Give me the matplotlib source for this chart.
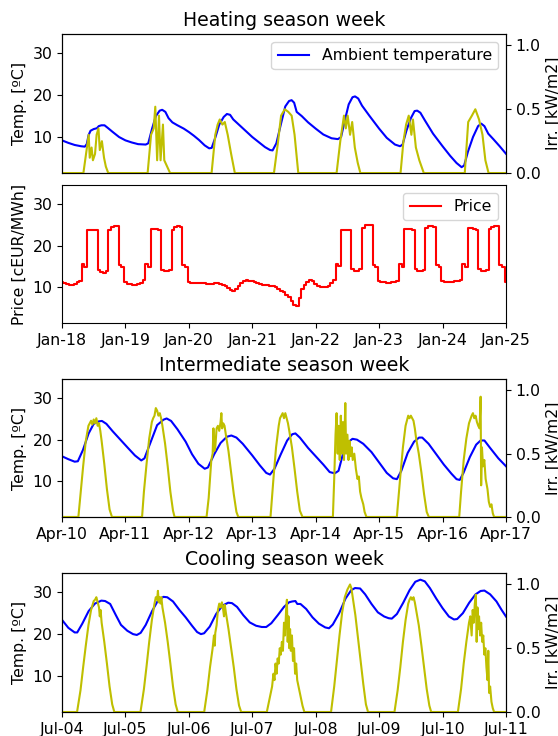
import numpy as np
import matplotlib
matplotlib.use("Agg")
import matplotlib.pyplot as plt
import matplotlib.dates as mdates

plt.rcParams['font.family'] = ['DejaVu Sans']
plt.rcParams['font.size'] = 11.3

# ---------------- DATA ----------------
heat_start = '2018-01-18T00:00'
inter_start = '2018-04-10T00:00'
cool_start = '2018-07-04T00:00'

# Heating week ambient temperature (time in days, value in ºC)
heat_temp_d = [0.00, 0.10, 0.20, 0.30, 0.36, 0.39, 0.42, 0.45, 0.50, 0.55, 0.58, 0.62, 0.67, 0.72, 0.80, 0.90,
               1.00, 1.10, 1.20, 1.32, 1.36, 1.42, 1.48, 1.54, 1.58, 1.63, 1.68, 1.74, 1.82, 1.92,
               2.00, 2.08, 2.16, 2.25, 2.32, 2.36, 2.42, 2.48, 2.55, 2.60, 2.65, 2.70, 2.80, 2.90,
               3.00, 3.10, 3.20, 3.28, 3.32, 3.38, 3.45, 3.52, 3.58, 3.62, 3.66, 3.70, 3.78, 3.88,
               4.00, 4.12, 4.25, 4.35, 4.40, 4.46, 4.52, 4.58, 4.62, 4.67, 4.73, 4.85,
               5.00, 5.12, 5.25, 5.33, 5.37, 5.43, 5.50, 5.56, 5.60, 5.65, 5.72, 5.85,
               6.00, 6.12, 6.22, 6.30, 6.34, 6.40, 6.48, 6.56, 6.61, 6.66, 6.72, 6.80, 6.90, 7.00]
heat_temp_v = [9.2, 8.6, 8.1, 7.8, 7.7, 8.3, 10.5, 11.5, 11.9, 12.1, 12.6, 12.8, 12.8, 12.2, 11.2, 10.0,
               9.2, 8.7, 8.3, 8.2, 8.5, 12.0, 15.0, 16.3, 16.5, 16.0, 14.5, 13.5, 12.8, 12.0,
               11.2, 10.3, 9.3, 8.0, 7.3, 7.4, 10.0, 13.0, 14.8, 15.5, 15.3, 14.2, 12.8, 11.4,
               10.0, 8.8, 7.6, 6.9, 6.8, 8.5, 13.0, 17.3, 18.6, 18.8, 18.2, 16.0, 15.0, 13.5,
               12.0, 10.6, 9.7, 9.5, 10.0, 14.0, 17.8, 19.5, 19.7, 19.2, 17.5, 15.0,
               12.0, 9.8, 8.2, 7.8, 8.2, 11.5, 14.5, 16.2, 16.3, 15.8, 14.0, 10.8,
               7.8, 5.5, 3.8, 2.8, 3.2, 6.5, 10.0, 12.6, 13.2, 12.6, 10.8, 9.5, 7.8, 6.0]

# Heating week irradiance: per day, (hour-of-day list, kW/m2 list)
heat_irr_h = [
    [8.1, 10.1, 10.5, 11.2, 11.7, 12.5, 13.1, 13.8, 14.3, 15.1, 15.9, 16.6, 17.5],
    [8.4, 9.7, 10.7, 11.3, 12.0, 12.7, 13.3, 14.2, 14.7, 15.8, 16.9],
    [8.6, 10.0, 10.9, 11.7, 12.7, 13.6, 14.7, 16.0, 17.4],
    [8.2, 9.6, 10.9, 12.3, 13.6, 14.9, 16.0, 17.4],
    [7.9, 9.3, 10.7, 11.4, 12.1, 13.0, 13.8, 14.8, 15.9, 16.9],
    [8.1, 9.2, 10.2, 11.2, 12.2, 12.8, 13.9, 15.2, 16.9],
    [8.4, 9.7, 11.1, 12.4, 13.8, 15.1, 16.2, 17.4],
]
heat_irr_v = [
    [0.0, 0.30, 0.12, 0.20, 0.10, 0.15, 0.30, 0.35, 0.18, 0.25, 0.12, 0.05, 0.0],
    [0.0, 0.30, 0.35, 0.52, 0.10, 0.45, 0.10, 0.38, 0.10, 0.05, 0.0],
    [0.0, 0.30, 0.38, 0.42, 0.38, 0.40, 0.30, 0.15, 0.0],
    [0.0, 0.22, 0.45, 0.50, 0.48, 0.45, 0.30, 0.0],
    [0.0, 0.25, 0.45, 0.35, 0.45, 0.30, 0.40, 0.20, 0.08, 0.0],
    [0.0, 0.25, 0.38, 0.45, 0.30, 0.42, 0.20, 0.10, 0.0],
    [0.0, 0.40, 0.45, 0.50, 0.42, 0.30, 0.10, 0.0],
]

# Heating week price, hourly values (cEUR/MWh), 7 days x 24 h + final hour
price_days = [
    [11.3, 11.0, 10.8, 10.6, 10.6, 10.9, 11.3, 11.6, 15.5, 14.9, 23.9, 23.9, 23.9, 23.7,
     14.2, 13.7, 13.5, 14.0, 23.9, 24.5, 24.7, 24.7, 15.4, 15.0],
    [11.2, 10.9, 10.7, 10.6, 10.6, 10.7, 11.0, 11.8, 15.6, 15.0, 24.0, 24.0, 24.0, 23.8,
     14.2, 14.0, 13.8, 14.2, 23.8, 24.5, 24.7, 24.6, 15.4, 15.0],
    [11.2, 11.1, 11.1, 11.0, 11.0, 11.0, 11.0, 10.9, 10.9, 10.9, 11.0, 11.0, 10.8, 10.6,
     10.3, 9.9, 9.3, 9.2, 9.6, 10.2, 11.0, 11.6, 11.7, 11.5],
    [11.4, 11.2, 11.0, 10.8, 10.6, 10.5, 10.5, 10.4, 10.2, 10.0, 9.6, 9.2, 8.8, 8.2,
     7.6, 6.8, 5.8, 5.5, 7.4, 9.5, 10.6, 11.3, 11.8, 11.4],
    [10.8, 10.3, 10.0, 10.0, 10.0, 10.2, 11.0, 11.8, 15.5, 15.1, 23.8, 23.8, 23.8, 23.8,
     14.3, 14.0, 14.0, 14.3, 24.2, 25.0, 25.1, 25.0, 15.4, 15.0],
    [11.5, 11.3, 11.2, 11.1, 11.1, 11.2, 11.3, 11.6, 15.6, 15.0, 24.0, 24.0, 24.0, 23.8,
     14.3, 14.0, 13.8, 14.2, 24.3, 24.7, 24.7, 24.6, 15.4, 15.0],
    [11.6, 11.3, 11.2, 11.2, 11.3, 11.5, 11.6, 11.7, 15.5, 15.0, 24.2, 24.2, 24.0, 23.9,
     14.3, 14.0, 13.8, 14.2, 24.1, 24.5, 24.7, 24.7, 15.3, 15.0],
]
price_last = 11.2

# Intermediate week temperature (days, ºC)
inter_temp_d = [0.00, 0.10, 0.20, 0.25, 0.33, 0.42, 0.50, 0.58, 0.63, 0.70, 0.80, 0.92,
                1.04, 1.15, 1.25, 1.30, 1.40, 1.50, 1.60, 1.65, 1.72, 1.82, 1.95,
                2.05, 2.15, 2.25, 2.30, 2.40, 2.50, 2.60, 2.67, 2.75, 2.85,
                3.00, 3.12, 3.22, 3.28, 3.35, 3.45, 3.55, 3.63, 3.68, 3.75, 3.88,
                4.00, 4.12, 4.22, 4.30, 4.36, 4.42, 4.47, 4.52, 4.58, 4.65, 4.75, 4.88,
                5.00, 5.12, 5.22, 5.28, 5.35, 5.45, 5.55, 5.63, 5.68, 5.78, 5.90,
                6.02, 6.14, 6.22, 6.27, 6.33, 6.43, 6.53, 6.60, 6.66, 6.75, 6.88, 7.00]
inter_temp_v = [16.0, 15.3, 14.7, 14.8, 17.5, 21.5, 23.8, 24.4, 24.5, 23.8, 22.0, 20.0,
                18.0, 16.2, 15.0, 15.5, 19.5, 23.5, 24.8, 25.1, 24.5, 22.5, 19.5,
                16.5, 14.2, 13.0, 13.3, 16.5, 19.2, 20.7, 21.0, 20.5, 19.0,
                16.2, 13.8, 12.0, 11.6, 13.0, 16.5, 19.8, 21.3, 21.5, 20.5, 18.0,
                16.0, 14.0, 12.2, 11.9, 12.5, 16.0, 19.0, 19.5, 20.2, 20.0, 19.0, 17.0,
                14.5, 12.0, 10.7, 10.5, 12.5, 16.8, 19.5, 20.5, 20.5, 19.0, 16.5,
                14.0, 11.8, 10.5, 10.3, 12.0, 15.8, 18.8, 19.8, 19.8, 18.0, 15.5, 13.6]

inter_irr_h = [
    [6.2, 7, 8, 9, 10, 10.5, 11, 11.5, 12, 12.5, 13, 13.5, 14, 14.5, 15, 16, 17, 18, 18.9],
    [6.3, 7, 8, 9, 10, 10.5, 11, 11.5, 12, 12.5, 13, 13.5, 14, 15, 16, 17, 18, 18.6],
    [6.7, 7.5, 8, 8.5, 9, 9.3, 9.6, 10, 10.5, 11, 11.5, 12, 12.3, 12.6, 13, 13.5, 14, 15, 16, 17, 18, 18.7],
    [6.9, 8, 9, 10, 10.5, 11, 11.5, 12, 12.5, 13, 13.5, 14, 15, 16, 17, 18, 19],
    [6.5, 7, 7.5, 7.9, 8.3, 8.7, 9.1, 9.5, 9.9, 10.3, 10.7, 11.2, 11.5, 12, 12.4, 12.8, 13.2,
     13.6, 14, 14.6, 15.2, 15.8, 16.3, 16.8, 17.3, 18, 18.5, 19.2],
    [6.7, 7.5, 8, 9, 10, 10.5, 11, 11.5, 12, 12.5, 13, 13.5, 14, 15, 16, 17, 18, 18.8],
    [6.3, 7, 8, 9, 10, 11, 11.5, 12, 12.5, 13, 13.5, 14, 14.4, 14.6, 14.9, 15.3, 15.8, 16.3,
     17, 17.5, 18, 18.5, 19, 19.5],
]
inter_irr_v = [
    [0.0, 0.18, 0.40, 0.60, 0.72, 0.74, 0.76, 0.73, 0.77, 0.74, 0.78, 0.72, 0.74, 0.68, 0.60, 0.42, 0.22, 0.06, 0.0],
    [0.0, 0.20, 0.42, 0.62, 0.75, 0.78, 0.80, 0.86, 0.84, 0.80, 0.82, 0.78, 0.72, 0.58, 0.40, 0.20, 0.05, 0.0],
    [0.0, 0.15, 0.30, 0.45, 0.50, 0.70, 0.52, 0.55, 0.70, 0.72, 0.68, 0.75, 0.82, 0.70, 0.74, 0.72, 0.65, 0.52,
     0.35, 0.18, 0.04, 0.0],
    [0.0, 0.30, 0.55, 0.72, 0.78, 0.80, 0.82, 0.78, 0.82, 0.78, 0.74, 0.68, 0.55, 0.38, 0.20, 0.05, 0.0],
    [0.0, 0.30, 0.65, 0.82, 0.50, 0.72, 0.45, 0.80, 0.50, 0.75, 0.45, 0.90, 0.50, 0.65, 0.45, 0.60, 0.48,
     0.55, 0.45, 0.50, 0.38, 0.30, 0.32, 0.20, 0.15, 0.10, 0.04, 0.0],
    [0.0, 0.20, 0.32, 0.55, 0.72, 0.76, 0.80, 0.78, 0.80, 0.78, 0.76, 0.70, 0.62, 0.50, 0.35, 0.18, 0.04, 0.0],
    [0.0, 0.20, 0.45, 0.62, 0.74, 0.80, 0.82, 0.78, 0.80, 0.75, 0.72, 0.70, 0.95, 0.25, 0.55, 0.40, 0.45, 0.30,
     0.22, 0.12, 0.08, 0.10, 0.03, 0.0],
]

# Cooling week temperature (days, ºC)
cool_temp_d = [0.00, 0.10, 0.20, 0.24, 0.32, 0.42, 0.52, 0.62, 0.68, 0.76, 0.85, 0.93,
               1.03, 1.12, 1.18, 1.24, 1.32, 1.42, 1.52, 1.60, 1.66, 1.75, 1.85, 1.95,
               2.05, 2.13, 2.19, 2.24, 2.33, 2.43, 2.53, 2.62, 2.68, 2.76, 2.86, 2.96,
               3.06, 3.15, 3.22, 3.30, 3.40, 3.50, 3.58, 3.63, 3.68, 3.71, 3.76, 3.85, 3.95,
               4.05, 4.15, 4.21, 4.27, 4.37, 4.47, 4.56, 4.62, 4.70, 4.78, 4.88, 4.98,
               5.08, 5.15, 5.20, 5.28, 5.38, 5.48, 5.57, 5.65, 5.72, 5.80, 5.90,
               6.00, 6.10, 6.18, 6.23, 6.32, 6.42, 6.52, 6.60, 6.66, 6.75, 6.85, 6.93, 7.00]
cool_temp_v = [23.4, 21.5, 20.4, 20.4, 22.5, 25.5, 27.3, 28.0, 27.9, 27.2, 24.5, 22.2,
               20.8, 20.0, 19.8, 20.3, 22.2, 25.5, 28.2, 28.9, 28.8, 27.8, 25.8, 24.0,
               22.0, 20.5, 20.0, 20.2, 21.8, 24.8, 26.8, 27.5, 27.4, 26.5, 24.5, 22.8,
               22.0, 21.7, 21.7, 22.6, 24.5, 26.5, 27.6, 27.8, 27.9, 27.2, 27.2, 26.0, 24.0,
               22.5, 21.6, 21.4, 22.3, 25.0, 28.5, 30.5, 31.0, 30.9, 29.5, 27.2, 25.2,
               24.2, 23.8, 23.7, 24.8, 27.5, 30.5, 32.5, 33.0, 32.6, 31.0, 28.5,
               26.2, 24.2, 23.5, 23.6, 25.0, 27.5, 29.5, 30.3, 30.4, 29.5, 27.8, 25.8, 24.2]

cool_irr_h = [
    [5.7, 7, 8, 9, 10, 11, 12, 12.5, 13, 13.5, 14, 14.3, 14.6, 15, 16, 17, 18, 19, 19.8],
    [5.7, 7, 8, 9, 10, 11, 11.5, 12, 12.3, 12.6, 13, 13.3, 13.6, 14, 15, 16, 17, 18, 19, 19.8],
    [5.8, 7, 8, 9, 9.5, 9.8, 10, 10.5, 11, 11.5, 12, 12.5, 13, 13.3, 13.6, 14, 15, 16, 17, 18, 19, 19.8],
    [5.5, 6.5, 7.5, 8, 8.4, 8.8, 9.2, 9.6, 10, 10.4, 10.8, 11.2, 11.6, 12, 12.4, 12.8, 13.1, 13.4,
     13.7, 14, 14.3, 14.6, 15, 15.4, 15.8, 16.2, 16.6, 17, 17.5, 18, 19, 19.7],
    [5.8, 7, 8, 9, 10, 11, 12, 12.5, 13, 13.5, 14, 15, 16, 17, 18, 19, 19.8],
    [5.8, 7, 8, 9, 10, 11, 11.5, 12, 12.5, 13, 13.5, 14, 15, 16, 17, 18, 19, 19.7],
    [5.8, 7, 8, 9, 10, 10.5, 11, 11.4, 11.8, 12.2, 12.6, 12.9, 13.2, 13.5, 13.8, 14.2, 14.6, 15,
     15.4, 15.8, 16.2, 16.6, 17, 17.3, 17.6, 18, 18.5, 19, 19.5],
]
cool_irr_v = [
    [0.0, 0.17, 0.35, 0.52, 0.68, 0.80, 0.87, 0.88, 0.90, 0.86, 0.82, 0.75, 0.80, 0.70, 0.55, 0.38, 0.20, 0.06, 0.0],
    [0.0, 0.18, 0.36, 0.55, 0.72, 0.85, 0.90, 0.88, 0.95, 0.86, 0.90, 0.85, 0.90, 0.82, 0.70, 0.55, 0.38, 0.20, 0.06, 0.0],
    [0.0, 0.17, 0.35, 0.50, 0.60, 0.52, 0.62, 0.68, 0.80, 0.85, 0.82, 0.86, 0.80, 0.75, 0.84, 0.78, 0.65,
     0.50, 0.35, 0.18, 0.05, 0.0],
    [0.0, 0.10, 0.20, 0.30, 0.25, 0.38, 0.30, 0.42, 0.38, 0.50, 0.45, 0.55, 0.48, 0.70, 0.60, 0.80, 0.88, 0.55,
     0.75, 0.50, 0.65, 0.48, 0.60, 0.40, 0.50, 0.30, 0.38, 0.25, 0.20, 0.15, 0.05, 0.0],
    [0.0, 0.20, 0.40, 0.60, 0.78, 0.90, 0.96, 0.98, 1.00, 0.97, 0.90, 0.76, 0.58, 0.40, 0.22, 0.06, 0.0],
    [0.0, 0.17, 0.35, 0.55, 0.72, 0.85, 0.88, 0.90, 0.88, 0.90, 0.86, 0.80, 0.68, 0.52, 0.35, 0.18, 0.05, 0.0],
    [0.0, 0.18, 0.38, 0.55, 0.70, 0.75, 0.60, 0.80, 0.70, 0.85, 0.92, 0.55, 0.82, 0.65, 0.75, 0.60, 0.70, 0.55,
     0.60, 0.45, 0.50, 0.35, 0.25, 0.48, 0.15, 0.20, 0.08, 0.03, 0.0],
]

titles = ['Heating season week', 'Intermediate season week', 'Cooling season week']
temp_label = 'Temp. [ºC]'
irr_label = 'Irr. [kW/m2]'
price_label = 'Price [cEUR/MWh]'


# ---------------- HELPERS ----------------
def to_time(start, hours):
    return np.datetime64(start) + (np.asarray(hours, dtype=float) * 60).round().astype('timedelta64[m]')


def irr_series(h_days, v_days):
    hrs = [0.0]
    vals = [0.0]
    for d, (hh, vv) in enumerate(zip(h_days, v_days)):
        hrs += [24 * d + h for h in hh]
        vals += list(vv)
    hrs.append(168.0)
    vals.append(0.0)
    return hrs, vals


TEMP_YLIM = (1.4, 34.6)
IRR_YLIM = (0.0, 1.09)
BLUE = '#0000ff'
OLIVE = '#bfbf00'
RED = '#ff0000'

fig = plt.figure(figsize=(5.58, 7.36), dpi=100)
L, W = 0.1111, 0.7957
ax1 = fig.add_axes([L, 0.7649, W, 0.1889])
ax2 = fig.add_axes([L, 0.5611, W, 0.1875])
ax3 = fig.add_axes([L, 0.2976, W, 0.1875])
ax4 = fig.add_axes([L, 0.0326, W, 0.1889])


def season(ax, start, td, tv, ih, iv, title, legend=False, xlabels=True):
    t = to_time(start, np.asarray(td) * 24)
    ax.plot(t, tv, color=BLUE, lw=1.5, label='Ambient temperature')
    ax.set_ylim(*TEMP_YLIM)
    ax.set_yticks([10, 20, 30])
    ax.set_ylabel(temp_label)
    ax.set_title(title, fontsize=13.6)
    x0 = np.datetime64(start)
    ax.set_xlim(x0, x0 + np.timedelta64(7, 'D'))
    ax.xaxis.set_major_locator(mdates.DayLocator())
    ax.xaxis.set_major_formatter(mdates.DateFormatter('%b-%d'))
    if legend:
        ax.legend(loc='upper right')
    if not xlabels:
        ax.tick_params(axis='x', bottom=False, labelbottom=False)
    axr = ax.twinx()
    hrs, vals = irr_series(ih, iv)
    axr.plot(to_time(start, hrs), vals, color=OLIVE, lw=1.5)
    axr.set_ylim(*IRR_YLIM)
    axr.set_yticks([0.0, 0.5, 1.0])
    axr.set_ylabel(irr_label)
    axr.set_xlim(x0, x0 + np.timedelta64(7, 'D'))
    return axr


season(ax1, heat_start, heat_temp_d, heat_temp_v, heat_irr_h, heat_irr_v, titles[0],
       legend=True, xlabels=False)

# price
price_vals = [v for day in price_days for v in day] + [price_last]
price_t = to_time(heat_start, np.arange(len(price_vals)))
ax2.plot(price_t, price_vals, color=RED, lw=1.5, drawstyle='steps-mid', label='Price')
ax2.set_ylim(*TEMP_YLIM)
ax2.set_yticks([10, 20, 30])
ax2.set_ylabel(price_label)
x0 = np.datetime64(heat_start)
ax2.set_xlim(x0, x0 + np.timedelta64(7, 'D'))
ax2.xaxis.set_major_locator(mdates.DayLocator())
ax2.xaxis.set_major_formatter(mdates.DateFormatter('%b-%d'))
ax2.legend(loc='upper right')

season(ax3, inter_start, inter_temp_d, inter_temp_v, inter_irr_h, inter_irr_v, titles[1])
season(ax4, cool_start, cool_temp_d, cool_temp_v, cool_irr_h, cool_irr_v, titles[2])

fig.savefig('out.png', dpi=100)
